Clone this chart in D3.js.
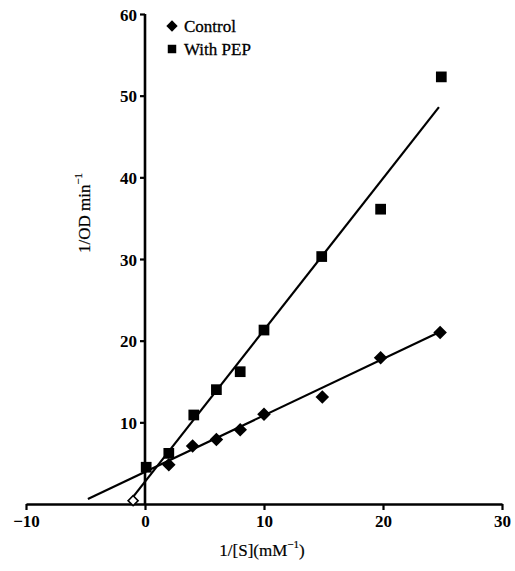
<!DOCTYPE html>
<html>
<head>
<meta charset="UTF-8">
<style>
  body { margin: 0; background: #fff; }
  svg { display: block; }
  svg text { font-family: "Liberation Serif", "Times New Roman", Times, "DejaVu Serif", serif; }
</style>
</head>
<body>
<div id="chart"></div>
<script src="https://d3js.org/d3.v7.min.js"></script>
<script>
// values
const controlX = [2, 4, 6, 8, 10, 14.9, 19.8, 24.8];
const controlY = [4.8, 7.1, 7.9, 9.1, 11.0, 13.1, 17.9, 21.0];
const pepX = [0.1, 2, 4.1, 6, 8, 10, 14.85, 19.8, 24.9];
const pepY = [4.5, 6.2, 10.9, 14.0, 16.2, 21.3, 30.3, 36.1, 52.3];
// fitted lines, endpoints
const controlFit = [[-4.8, 0.6], [24.8, 21.1]];
const pepFit = [[-1.2, 0.5], [24.7, 48.6]];
const interceptMark = [-1.0, 0.4];
const xTicks = [-10, 0, 10, 20, 30];
const yTicks = [10, 20, 30, 40, 50, 60];

const W = 515, H = 571;
const svg = d3.select("#chart").append("svg").attr("width", W).attr("height", H);

const x = d3.scaleLinear().domain([-10, 30]).range([26, 502]);
const y = d3.scaleLinear().domain([0, 60]).range([504, 14]);

// axes
const xAxis = svg.append("g").attr("transform", `translate(0,${y(0)})`)
  .call(d3.axisBottom(x).tickValues(xTicks).tickSize(6).tickSizeOuter(0).tickPadding(3));
const yAxis = svg.append("g").attr("transform", `translate(${x(0)},0)`)
  .call(d3.axisLeft(y).tickValues(yTicks).tickSize(5).tickSizeOuter(0).tickPadding(3));
[xAxis, yAxis].forEach(a => {
  a.attr("font-family", null);
  a.select(".domain").attr("stroke", "#000").attr("stroke-width", 2.6);
  a.selectAll(".tick line").attr("stroke", "#000").attr("stroke-width", 2.2);
  a.selectAll(".tick text").attr("fill", "#000").attr("font-size", 17).attr("font-weight", "bold");
});
yAxis.select(".domain").attr("d", `M0,${y(60)}V${y(0) + 1}`);
xAxis.selectAll(".tick text").attr("dy", "0.85em");
yAxis.selectAll(".tick text").attr("dy", "0.36em");

// fit lines
const line = d3.line().x(d => x(d[0])).y(d => y(d[1]));
[controlFit, pepFit].forEach(f => {
  svg.append("path").attr("d", line(f)).attr("fill", "none").attr("stroke", "#000").attr("stroke-width", 2.2);
});

// markers
const diamond = d3.symbol().type(d3.symbolSquare).size(92);
const square = d3.symbol().type(d3.symbolSquare).size(115);

svg.append("path").attr("d", d3.symbol().type(d3.symbolSquare).size(50)())
  .attr("transform", `translate(${x(interceptMark[0])},${y(interceptMark[1])}) rotate(45)`)
  .attr("fill", "#fff").attr("stroke", "#000").attr("stroke-width", 1.6);

svg.append("g").selectAll("path").data(d3.zip(pepX, pepY)).join("path")
  .attr("d", square()).attr("fill", "#000")
  .attr("transform", d => `translate(${x(d[0])},${y(d[1])})`);

svg.append("g").selectAll("path").data(d3.zip(controlX, controlY)).join("path")
  .attr("d", diamond()).attr("fill", "#000")
  .attr("transform", d => `translate(${x(d[0])},${y(d[1])}) rotate(45)`);

// legend
const legend = svg.append("g").attr("font-size", 17).attr("fill", "#000");
legend.append("path").attr("d", d3.symbol().type(d3.symbolSquare).size(64)())
  .attr("transform", "translate(172,26) rotate(45)");
legend.append("text").attr("x", 184).attr("y", 32).attr("stroke", "#000").attr("stroke-width", 0.3).text("Control");
legend.append("path").attr("d", d3.symbol().type(d3.symbolSquare).size(72)())
  .attr("transform", "translate(172,49)");
legend.append("text").attr("x", 184).attr("y", 55).attr("stroke", "#000").attr("stroke-width", 0.3).text("With PEP");

// axis titles
const yt = svg.append("text").attr("transform", "translate(90,213) rotate(-90)")
  .attr("text-anchor", "middle").attr("font-size", 17).attr("stroke", "#000").attr("stroke-width", 0.2);
yt.append("tspan").text("1/OD min");
yt.append("tspan").attr("font-size", 11).attr("dy", -8).text("\u22121");

const xt = svg.append("text").attr("x", 262).attr("y", 556)
  .attr("text-anchor", "middle").attr("font-size", 17).attr("stroke", "#000").attr("stroke-width", 0.2);
xt.append("tspan").text("1/[S](mM");
xt.append("tspan").attr("font-size", 11).attr("dy", -8).text("\u22121");
xt.append("tspan").attr("dy", 8).text(")");
</script>
</body>
</html>
